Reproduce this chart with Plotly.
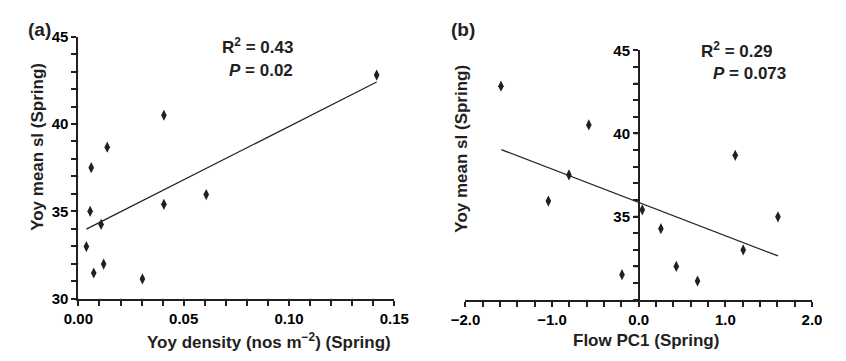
import plotly.graph_objects as go

# ---- data ----
density = [0.1416, 0.0406, 0.0137, 0.0061, 0.0056, 0.0108, 0.0406, 0.0607, 0.0038, 0.0120, 0.0073, 0.0304]
sl_a    = [42.8, 40.5, 38.67, 37.5, 35.0, 34.25, 35.4, 35.96, 32.98, 31.98, 31.47, 31.13]
flow_pc1 = [-1.59, -0.576, -0.805, 1.114, -1.043, 0.041, 0.256, 1.607, 1.206, -0.193, 0.434, 0.679]
sl_b     = [42.84, 40.51, 37.5, 38.68, 35.93, 35.4, 34.27, 34.98, 32.99, 31.5, 32.0, 31.12]
fit_a_x = [0.0038, 0.1416]
fit_a_y = [33.98, 42.4]
fit_b_x = [-1.585, 1.607]
fit_b_y = [39.02, 32.63]

# tick positions (every minor step) and labels (only on majors)
xa_ticks = [i / 100 for i in range(0, 16)]
xa_labels = {0: "0.00", 5: "0.05", 10: "0.10", 15: "0.15"}
xb_ticks = [(-20 + 2 * i) / 10 for i in range(0, 21)]
xb_labels = {0: "\u22122.0", 5: "\u22121.0", 10: "0.0", 15: "1.0", 20: "2.0"}
y_ticks = list(range(30, 46))
ya_labels = {30: "30", 35: "35", 40: "40", 45: "45"}
yb_labels = {35: "35", 40: "40", 45: "45"}

W, H = 846, 361
INK = "#231f20"
FONT = "Liberation Sans"
TICKLEN = 5

def px(x):
    return x / W

def py(y):
    return (H - y) / H

def bold_labels(labels, keys):
    return ["<b>%s</b>" % labels[k] if k in labels else "" for k in keys]

fig = go.Figure()
fig.add_trace(go.Scatter(x=density, y=sl_a, mode="markers", xaxis="x", yaxis="y",
                         marker=dict(symbol="diamond-tall", size=8, color=INK), showlegend=False))
fig.add_trace(go.Scatter(x=fit_a_x, y=fit_a_y, mode="lines", xaxis="x", yaxis="y",
                         line=dict(color=INK, width=1.2), showlegend=False))
fig.add_trace(go.Scatter(x=flow_pc1, y=sl_b, mode="markers", xaxis="x2", yaxis="y2",
                         marker=dict(symbol="diamond-tall", size=8, color=INK), showlegend=False))
fig.add_trace(go.Scatter(x=fit_b_x, y=fit_b_y, mode="lines", xaxis="x2", yaxis="y2",
                         line=dict(color=INK, width=1.2), showlegend=False))

tickfont = dict(family=FONT, size=15, color="#000000", weight=700)
common = dict(showgrid=False, zeroline=False, showline=True, linecolor=INK, linewidth=2,
              ticks="outside", ticklen=TICKLEN, tickwidth=1.5, tickcolor=INK, tickfont=tickfont,
              tickmode="array", tickangle=0)

fig.update_layout(
    width=W, height=H, margin=dict(l=0, r=0, t=0, b=0),
    paper_bgcolor="white", plot_bgcolor="white",
    font=dict(family=FONT, color=INK),
    xaxis=dict(domain=[px(65.7), px(393.3)], range=[0, 0.15], anchor="y",
               tickvals=xa_ticks, ticktext=bold_labels(xa_labels, range(len(xa_ticks))), **common),
    yaxis=dict(domain=[py(304), py(29)], range=[30, 45], anchor="x",
               tickvals=y_ticks, ticktext=bold_labels(ya_labels, y_ticks), **common),
    xaxis2=dict(domain=[px(467), px(826.3)], range=[-2, 2], anchor="y2",
                tickvals=xb_ticks, ticktext=bold_labels(xb_labels, range(len(xb_ticks))), **common),
    yaxis2=dict(domain=[py(305), py(43.3)], range=[30, 45], anchor="free", position=px(647),
                tickvals=y_ticks, ticktext=bold_labels(yb_labels, y_ticks), **common),
)

# explicit tick marks (drawn in axis coordinates, pixel length)
tick_line = dict(color=INK, width=1.5)
for xv in xa_ticks:
    fig.add_shape(type="line", xref="x", yref="y", ysizemode="pixel", yanchor=30,
                  x0=xv, x1=xv, y0=0, y1=-TICKLEN, line=tick_line)
for xv in xb_ticks:
    fig.add_shape(type="line", xref="x2", yref="y2", ysizemode="pixel", yanchor=30,
                  x0=xv, x1=xv, y0=0, y1=-TICKLEN, line=tick_line)
for yv in y_ticks:
    fig.add_shape(type="line", xref="x", yref="y", xsizemode="pixel", xanchor=0,
                  x0=0, x1=-TICKLEN, y0=yv, y1=yv, line=tick_line)
    fig.add_shape(type="line", xref="x2", yref="y2", xsizemode="pixel", xanchor=0,
                  x0=0, x1=-TICKLEN, y0=yv, y1=yv, line=tick_line)

def ann(text, x, y, size, xanchor="center", angle=0):
    fig.add_annotation(text="<b>%s</b>" % text, x=px(x), y=py(y), xref="paper", yref="paper",
                       xanchor=xanchor, yanchor="middle", showarrow=False, textangle=angle,
                       font=dict(family=FONT, size=size, color=INK))

# panel labels
ann("(a)", 11, 21, 19, xanchor="left")
ann("(b)", 450, 21, 19, xanchor="left")
# axis titles
ann("Yoy density (nos m<sup>\u22122</sup>) (Spring)", 263.5, 348, 17)
ann("Flow PC1 (Spring)", 654.5, 348, 17)
ann("Yoy mean sl (Spring)", 22.5, 145, 17, angle=-90)
ann("Yoy mean sl (Spring)", 462, 147, 17, angle=-90)
# stats
ann("R<sup>2</sup> = 0.43", 290, 39, 17, xanchor="right")
ann("<i>P</i> = 0.02", 290, 65, 17, xanchor="right")
ann("R<sup>2</sup> = 0.29", 787, 43, 17, xanchor="right")
ann("<i>P</i> = 0.073", 801, 68, 17, xanchor="right")

fig.write_html("out.html")
